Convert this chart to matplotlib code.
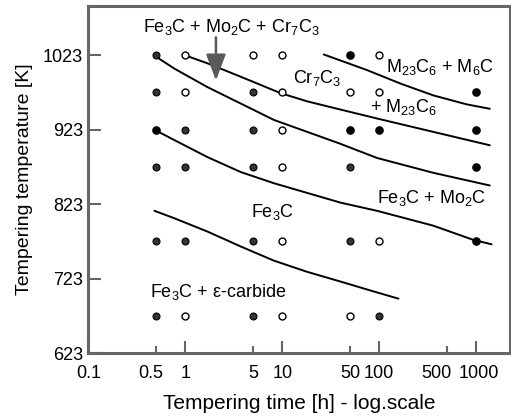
import matplotlib
matplotlib.use('Agg')
import matplotlib.pyplot as plt
import matplotlib.transforms as mtrans
from matplotlib.ticker import FixedLocator

plt.rcParams['font.family'] = ['Liberation Sans', 'DejaVu Sans']
plt.rcParams['mathtext.default'] = 'regular'

# observed points (time h, temperature K)
filled_t = [50, 1000, 0.5, 50, 100, 1000, 1000, 1000]
filled_T = [1023, 973, 923, 923, 923, 923, 873, 773]
open_t = [1, 5, 10, 100, 1, 10, 50, 100, 10, 10, 10, 100, 1, 10, 50]
open_T = [1023, 1023, 1023, 1023, 973, 973, 973, 973, 923, 873, 773, 773, 673, 673, 673]
half_t = [0.5, 0.5, 5, 1, 5, 0.5, 1, 5, 50, 0.5, 1, 5, 50, 0.5, 5, 100]
half_T = [1023, 973, 973, 923, 923, 873, 873, 873, 873, 773, 773, 773, 773, 673, 673, 673]

# phase boundaries
curveA_t = [26.8, 74.9, 165, 362, 799, 1386]
curveA_T = [1024, 1003, 985, 969, 957, 951]
curveB_t = [0.94, 1.7, 3.74, 9.63, 18.1, 39.8, 94.9, 362, 1386]
curveB_T = [1024, 1012, 994, 972, 961, 950, 938, 920, 902]
curveC_t = [0.473, 0.77, 1.7, 3.74, 8.22, 18.1, 39.8, 94.9, 362, 1386]
curveC_T = [1023, 1005, 980, 958, 936, 920, 904, 885, 865, 848]
curveD_t = [0.48, 0.77, 1.7, 3.74, 8.22, 18.1, 39.8, 94.9, 362, 934, 1443]
curveD_T = [923, 909, 886, 866, 851, 838, 825, 814, 794, 775, 769]
curveE_t = [0.48, 0.77, 1.7, 3.74, 8.22, 18.1, 39.8, 81, 158]
curveE_T = [814, 804, 786, 766, 747, 732, 719, 707, 696]

yticks = [623, 723, 823, 923, 1023]
xmajor = [0.1, 1, 10, 100, 1000]
xmajor_labels = ['0.1', '1', '10', '100', '1000']
xminor = [0.5, 5, 50, 500]
xminor_labels = ['0.5', '5', '50', '500']

fig = plt.figure(figsize=(5.11, 4.18), dpi=100)
ax = fig.add_axes([0.173, 0.1555, 0.825, 0.830])
ax.set_xscale('log')
ax.set_xlim(0.1, 2236)
ax.set_ylim(623, 1089)

for t, T in [(curveA_t, curveA_T), (curveB_t, curveB_T), (curveC_t, curveC_T),
             (curveD_t, curveD_T), (curveE_t, curveE_T)]:
    ax.plot(t, T, color='black', lw=1.4, solid_capstyle='round', solid_joinstyle='round')

ax.plot(half_t, half_T, 'o', ms=5, mfc='0.2', mec='black', mew=0.8, ls='none')
ax.plot(open_t, open_T, 'o', ms=5, mfc='white', mec='black', mew=1.0, ls='none')
ax.plot(filled_t, filled_T, 'o', ms=5.2, mfc='black', mec='black', ls='none')

fs = 13
ax.text(0.367, 1061, r'Fe$_3$C + Mo$_2$C + Cr$_7$C$_3$', fontsize=fs, va='center')
ax.annotate('', xy=(2.07, 989), xytext=(2.07, 1047),
            arrowprops=dict(arrowstyle='-|>,head_length=0.8,head_width=0.3',
                            color='0.35', lw=1.8, mutation_scale=20, shrinkA=0, shrinkB=0))
ax.text(12.8, 992, r'Cr$_7$C$_3$', fontsize=fs, va='center')
ax.text(81, 953, r'+ M$_{23}$C$_6$', fontsize=fs, va='center')
ax.text(118, 1007, r'M$_{23}$C$_6$ + M$_6$C', fontsize=fs, va='center')
ax.text(95.6, 831, r'Fe$_3$C + Mo$_2$C', fontsize=fs, va='center')
ax.text(4.73, 812, r'Fe$_3$C', fontsize=fs, va='center')
ax.text(0.434, 705, 'Fe$_3$C + ε-carbide', fontsize=fs, va='center')

ax.xaxis.set_major_locator(FixedLocator(xmajor))
ax.set_xticks(xmajor, labels=xmajor_labels)
ax.set_xticks(xminor, labels=xminor_labels, minor=True)
ax.set_yticks(yticks)
ax.tick_params(axis='both', which='major', direction='in', length=9, width=1.5,
               color='0.4', labelsize=13)
ax.tick_params(axis='x', which='minor', direction='in', length=5, width=1.5,
               color='0.4', labelsize=13)
ax.tick_params(axis='x', which='both', pad=8.5)
ax.tick_params(axis='y', which='major', pad=4)
ax.tick_params(axis='y', which='minor', left=False)

# nudge crowded tick labels like the original
shifts = {'0.5': -5, '500': -10, '1000': 3}
for lab in ax.get_xticklabels(minor=True) + ax.get_xticklabels():
    dx = shifts.get(lab.get_text(), 0)
    if dx:
        lab.set_transform(lab.get_transform() +
                          mtrans.ScaledTranslation(dx / 100, 0, fig.dpi_scale_trans))

for s in ax.spines.values():
    s.set_color('0.4')
    s.set_linewidth(2.2)

ax.set_xlabel('Tempering time [h] - log.scale', fontsize=15, labelpad=9)
ax.set_ylabel('Tempering temperature [K]', fontsize=14, labelpad=7)

fig.savefig('out.png', dpi=100)
